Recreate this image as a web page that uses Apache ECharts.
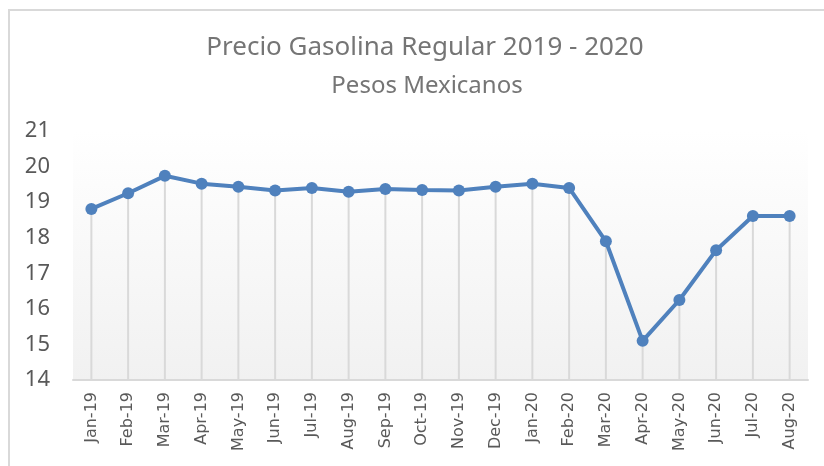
<!DOCTYPE html>
<html>
<head>
<meta charset="utf-8">
<title>Precio Gasolina Regular 2019 - 2020</title>
<script src="https://cdn.jsdelivr.net/npm/echarts@6/dist/echarts.min.js"></script>
<style>
    html, body {
        margin: 0;
        padding: 0;
        background: #fff;
    }
    .frame {
        position: absolute;
        left: 8px;
        top: 9px;
        width: 900px;
        height: 500px;
        border-left: 2px solid #d9d9d9;
        border-top: 2px solid #d9d9d9;
    }
    #chart_gasolina {
        position: absolute;
        left: 0;
        top: 0;
        width: 824px;
        height: 466px;
    }
</style>
</head>
<body>
<div class="frame"></div>
<div id="chart_gasolina"></div>
<script>
// meses
const months = ["Jan-19", "Feb-19", "Mar-19", "Apr-19", "May-19", "Jun-19", "Jul-19", "Aug-19",
    "Sep-19", "Oct-19", "Nov-19", "Dec-19", "Jan-20", "Feb-20", "Mar-20", "Apr-20",
    "May-20", "Jun-20", "Jul-20", "Aug-20"];
// precio en pesos mexicanos
const precio = [18.81, 19.25, 19.74, 19.52, 19.43, 19.33, 19.40, 19.29,
    19.37, 19.34, 19.33, 19.43, 19.52, 19.40, 17.90, 15.10,
    16.25, 17.65, 18.61, 18.61];

const myChart = echarts.init(document.getElementById("chart_gasolina"));

const option = {
    animation: false,
    title: [
        {
            text: "Precio Gasolina Regular 2019 - 2020",
            left: 420,
            textAlign: "center",
            top: 30,
            textStyle: {
                fontFamily: "Noto Sans",
                fontWeight: "normal",
                fontSize: 26,
                color: "#757575",
            },
        },
        {
            text: "Pesos Mexicanos",
            left: 422,
            textAlign: "center",
            top: 69,
            textStyle: {
                fontFamily: "Noto Sans",
                fontWeight: "normal",
                fontSize: 24,
                color: "#757575",
            },
        },
    ],
    grid: {
        left: 73,
        right: 16,
        top: 131,
        bottom: 86,
        show: true,
        borderWidth: 0,
        backgroundColor: new echarts.graphic.LinearGradient(0, 0, 0, 1, [
            { offset: 0, color: "#ffffff" },
            { offset: 1, color: "#f1f1f1" },
        ]),
    },
    xAxis: {
        type: "category",
        data: months,
        boundaryGap: true,
        axisLine: {
            show: true,
            lineStyle: { color: "#d9d9d9", width: 2 },
        },
        axisTick: { show: false },
        axisLabel: {
            rotate: 90,
            interval: 0,
            margin: 12,
            fontFamily: "DejaVu Sans",
            fontSize: 16,
            color: "#595959",
        },
    },
    yAxis: {
        type: "value",
        min: 14,
        max: 21,
        interval: 1,
        axisLine: { show: false },
        axisTick: { show: false },
        splitLine: { show: false },
        axisLabel: {
            margin: 23,
            fontFamily: "Noto Sans",
            fontSize: 22,
            color: "#595959",
        },
    },
    series: [
        {
            // lineas verticales
            type: "bar",
            data: precio,
            barWidth: 2,
            itemStyle: { color: "#d9d9d9" },
            silent: true,
            z: 1,
        },
        {
            name: "Precio",
            type: "line",
            data: precio,
            symbol: "circle",
            symbolSize: 12,
            lineStyle: { color: "#4f81bd", width: 4 },
            itemStyle: { color: "#4f81bd" },
            z: 3,
        },
    ],
};

myChart.setOption(option);
</script>
</body>
</html>
